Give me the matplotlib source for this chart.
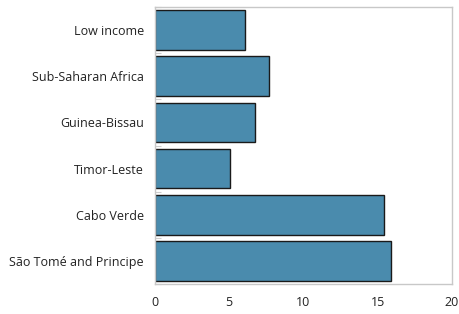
import matplotlib
matplotlib.use("Agg")
import matplotlib.pyplot as plt
import numpy as np

categories = ["Low income", "Sub-Saharan Africa", "Guinea-Bissau", "Timor-Leste",
              "Cabo Verde", "São Tomé and Principe"]
values = [6.05, 7.68, 6.75, 5.05, 15.4, 15.9]
xticks = [0, 5, 10, 15, 20]

plt.rcParams['font.family'] = ['Open Sans', 'DejaVu Sans']
fig = plt.figure(figsize=(4.6, 3.14), dpi=100)
ax = fig.add_axes([155/460, 1-284/314, (452-155)/460, (284-7)/314])

y = np.arange(len(categories))
ax.barh(y, values, height=0.86, color="#4A8BAD", edgecolor="#1a1a1a", linewidth=1.0)
ax.set_ylim(len(categories)-0.5, -0.5)
ax.set_xlim(0, 20)
ax.set_yticks(y)
ax.set_yticklabels(categories, fontsize=9, color="#222222")
ax.set_yticks(np.arange(-0.5, len(categories)), minor=True)
ax.tick_params(axis='y', which='major', length=0, pad=8)
ax.tick_params(axis='y', which='minor', length=4, direction='in', color="#cccccc", width=0.8)
ax.set_xticks(xticks)
ax.set_xticklabels([str(t) for t in xticks], fontsize=9, color="#222222")
ax.tick_params(axis='x', length=0, pad=9)
for s in ax.spines.values():
    s.set_color("#c8c8c8")
    s.set_linewidth(1.0)
fig.savefig("out.png", dpi=100)
